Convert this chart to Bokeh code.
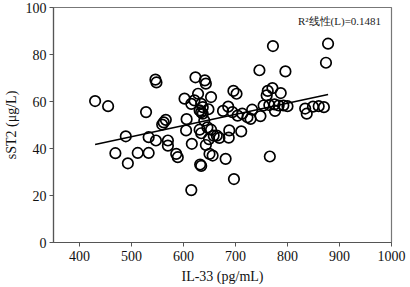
from bokeh.plotting import figure
from bokeh.models import ColumnDataSource, Range1d, FixedTicker, Label
from bokeh.embed import file_html
from bokeh.resources import INLINE

il33 = [430, 455, 489, 469, 493, 512, 533, 528, 546, 548, 559, 562, 566,
        533, 547, 570, 570, 586, 589,
        602, 605, 606, 616, 615, 623, 641, 643, 615, 621, 628, 634, 637,
        631, 634, 637, 648, 653, 676, 696, 702, 686, 694, 640, 646, 653,
        631, 634, 643, 649, 650, 656, 658, 664, 669, 632, 634, 681, 688,
        687, 697,
        711, 704, 713, 723, 732, 729, 748, 754, 765, 746, 796, 772, 762,
        760, 771, 787, 775, 783, 792, 800, 776, 834, 837, 849, 860, 870,
        878, 874, 766]
sst2 = [60.2, 58.0, 45.2, 38.0, 33.7, 38.1, 38.1, 55.5, 69.3, 68.1, 50.2, 51.1, 52.2,
        44.8, 43.4, 43.4, 41.2, 37.7, 36.3,
        61.2, 47.7, 52.5, 42.0, 22.3, 70.3, 69.0, 67.6, 59.0, 60.5, 63.3, 59.0, 57.6,
        56.2, 55.5, 54.8, 56.7, 61.9, 56.0, 64.5, 63.3, 57.8, 55.5, 51.9, 49.0, 48.0,
        48.0, 46.5, 41.5, 44.0, 37.7, 37.0, 45.5, 45.5, 44.5, 33.2, 32.6, 35.6, 47.7,
        44.6, 27.0,
        47.3, 54.0, 54.8, 53.3, 56.5, 52.6, 53.8, 58.3, 58.5, 73.3, 72.8, 83.6, 64.5,
        62.6, 65.7, 63.6, 58.8, 58.3, 58.3, 58.0, 56.0, 57.0, 54.8, 57.8, 58.0, 57.6,
        84.6, 76.5, 36.6]

fit_x = [430, 878]
fit_y = [41.7, 63.0]

x_ticks = [400, 500, 600, 700, 800, 900, 1000]
y_ticks = [0, 20, 40, 60, 80, 100]
r2_text = "R²线性(L)=0.1481"
r2_pos = (980, 94.4)

serif = "Liberation Serif"

p = figure(width=410, height=287, output_backend="svg", toolbar_location=None,
           x_range=Range1d(350, 1000), y_range=Range1d(0, 100),
           min_border_left=49, min_border_right=19, min_border_top=7, min_border_bottom=45)
p.background_fill_color = "white"
p.border_fill_color = "white"
p.outline_line_color = "#777777"
p.outline_line_width = 1.2
p.xgrid.visible = False
p.ygrid.visible = False

for ax, ticks in ((p.xaxis, x_ticks), (p.yaxis, y_ticks)):
    ax.ticker = FixedTicker(ticks=ticks)
    ax.axis_line_color = "#555555"
    ax.axis_line_width = 1.2
    ax.major_tick_line_color = "#555555"
    ax.major_tick_in = 0
    ax.major_tick_out = 4
    ax.minor_tick_line_color = None
    ax.major_label_text_font = serif
    ax.major_label_text_font_size = "14px"
    ax.major_label_text_color = "#111111"
    ax.axis_label_text_font = serif
    ax.axis_label_text_font_size = "14px"
    ax.axis_label_text_font_style = "normal"
    ax.axis_label_text_color = "#111111"

p.xaxis.axis_label = "IL-33 (pg/mL)"
p.yaxis.axis_label = "sST2 (μg/L)"
p.xaxis.major_label_standoff = 4
p.yaxis.major_label_standoff = 3
p.xaxis.axis_label_standoff = 5
p.yaxis.axis_label_standoff = 4

p.line(fit_x, fit_y, line_color="black", line_width=1.6)

src = ColumnDataSource(dict(x=il33, y=sst2))
p.scatter("x", "y", source=src, marker="circle", size=10.5, fill_color=None,
          line_color="black", line_width=1.7)

p.add_layout(Label(x=r2_pos[0], y=r2_pos[1], text=r2_text,
                   text_font="Liberation Serif", text_font_size="11px",
                   text_align="right", text_baseline="middle", text_color="#222222"))

open("out.html", "w").write(file_html(p, INLINE))
